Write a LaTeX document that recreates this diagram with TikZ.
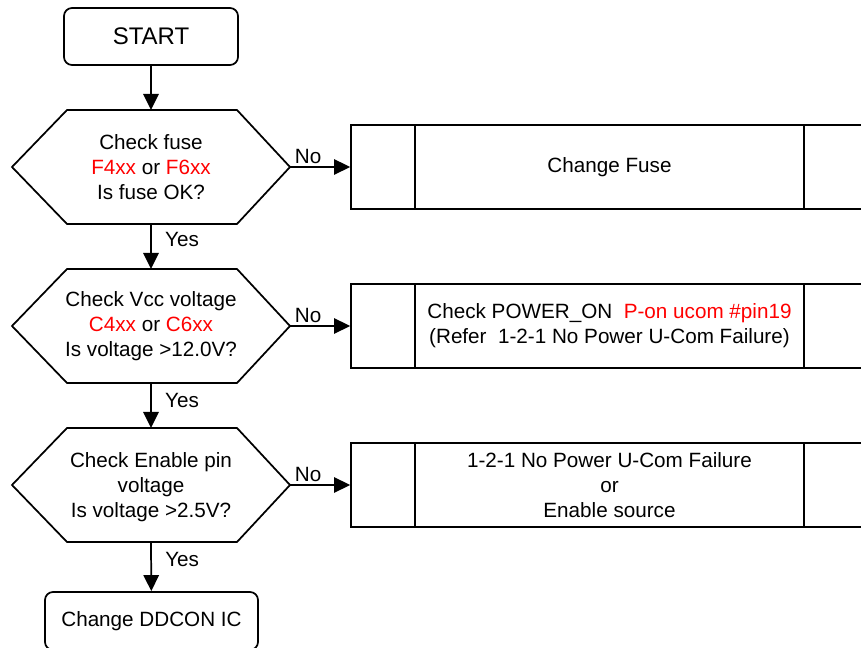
\documentclass[tikz,border=0pt]{standalone}
\usepackage{fontspec}
\setmainfont{Liberation Sans}
\usepackage{xcolor}
\usetikzlibrary{arrows.meta}
\definecolor{partred}{RGB}{255,0,0}

\begin{document}
\begin{tikzpicture}[x=0.75pt,y=-0.75pt,
  every node/.style={font=\fontsize{15.5}{18.75}\selectfont, align=center},
  term/.style={draw, line width=1.3pt, rounded corners=6pt, inner sep=0pt},
  pbox/.style={draw, line width=1.3pt, minimum width=387.75pt, minimum height=63pt, inner sep=0pt},
  flow/.style={-{Triangle[length=12pt,width=11.5pt]}, line width=1.3pt},
  lbl/.style={font=\fontsize{15.5}{18.75}\selectfont, inner sep=2pt}]
  \useasboundingbox (0,0) rectangle (861,648);

  \node[term, minimum width=130.5pt, minimum height=42.75pt, font=\fontsize{18}{21}\selectfont] (start) at (151,36.5) {START};

  % decision hexagons
  \foreach \n/\y in {q1/167,q2/326,q3/485}
    \draw[line width=1.3pt] (12,\y) coordinate (\n-w) -- (67,\y-57) -- (151,\y-57) coordinate (\n-n)
      -- (237,\y-57) -- (290,\y) coordinate (\n-e) -- (237,\y+57) -- (151,\y+57) coordinate (\n-s)
      -- (67,\y+57) -- cycle;
  \node (q1t) at (151,167) {Check fuse\\\textcolor{partred}{F4xx} or \textcolor{partred}{F6xx}\\Is fuse OK?};
  \node (q2t) at (151,326) {Check Vcc voltage\\\textcolor{partred}{C4xx} or \textcolor{partred}{C6xx}\\Is voltage >12.0V?};
  \node (q3t) at (151,487) {Check Enable pin\\voltage\\Is voltage >2.5V?};

  % predefined process boxes
  \node[pbox] (b1) at (609.5,167) {Change Fuse};
  \node[pbox] (b2) at (609.5,326) {Check POWER\_ON~~\textcolor{partred}{P-on ucom \#pin19}\\(Refer~~1-2-1 No Power U-Com Failure)};
  \node[pbox] (b3) at (609.5,485) {1-2-1 No Power U-Com Failure\\or\\Enable source};
  \foreach \b in {b1,b2,b3} {
    \draw[line width=1.3pt] ([xshift=48.75pt]\b.north west) -- ([xshift=48.75pt]\b.south west);
    \draw[line width=1.3pt] ([xshift=-48.75pt]\b.north east) -- ([xshift=-48.75pt]\b.south east);
  }

  \node[term, minimum width=159.75pt, minimum height=43.5pt] (stop) at (151.5,621) {Change DDCON IC};

  % connectors
  \draw[flow] (start) -- (q1-n);
  \draw[flow] (q1-s) -- node[lbl, pos=0.35, anchor=west, xshift=8pt] {Yes} (q2-n);
  \draw[flow] (q2-s) -- node[lbl, pos=0.38, anchor=west, xshift=8pt] {Yes} (q3-n);
  \draw[flow] (q3-s) -- node[lbl, pos=0.36, anchor=west, xshift=8pt] {Yes} (stop);
  \draw[flow] (q1-e) -- node[lbl, pos=0.3, above] {No} (b1);
  \draw[flow] (q2-e) -- node[lbl, pos=0.3, above] {No} (b2);
  \draw[flow] (q3-e) -- node[lbl, pos=0.3, above] {No} (b3);
\end{tikzpicture}
\end{document}
